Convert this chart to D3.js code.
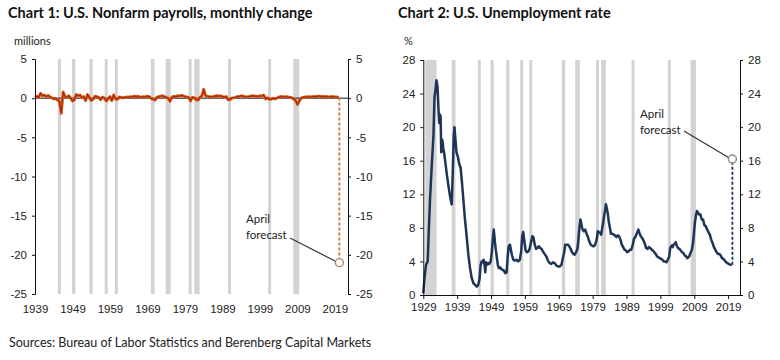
<!DOCTYPE html>
<html>
<head>
<meta charset="utf-8">
<script src="https://cdn.jsdelivr.net/npm/d3@7"></script>
<style>
  body { margin: 0; background: #fff; }
  svg { font-family: Lato, "Open Sans", sans-serif; }
</style>
</head>
<body>
<script>
const w = 780;
const h = 360;

// recession bands (decimal years)
const recStart = [1929.6, 1937.4, 1945.1, 1948.85, 1953.5, 1957.6, 1960.3, 1969.9, 1973.85, 1980.0, 1981.5, 1990.5, 2001.2, 2007.9];
const recEnd = [1932.9, 1938.5, 1945.8, 1949.8, 1954.4, 1958.3, 1961.1, 1970.9, 1975.2, 1980.5, 1982.9, 1991.2, 2001.9, 2009.5];

// chart 1: nonfarm payrolls, monthly change (millions), half-year steps from 1939
const payStart = 1939;
const payStep = 0.5;
const payValues = [
  0.1, 0.25, 0.1, 0.6, 0.3, 0.4, 0.2, 0.35, 0.15, 0.05,
  -0.1, -0.05, -0.2, -0.4, -1.93, 0.8, 0.2, 0.1, 0.3, 0.05,
  -0.35, -0.2, 0.45, 0.3, 0.4, 0.05, 0.2, -0.3, 0.45, 0.1,
  -0.3, -0.15, 0.25, 0.2, 0.1, -0.2, 0.15, 0.0, -0.35, -0.1,
  0.2, -0.3, 0.4, -0.1, -0.15, 0.15, 0.1, 0.05, 0.1, 0.15,
  0.1, 0.2, 0.15, 0.25, 0.2, 0.25, 0.1, 0.15, 0.2, 0.15,
  0.25, 0.2, -0.05, -0.1, -0.25, 0.1, 0.2, 0.25, 0.3, 0.2,
  0.1, 0.0, -0.4, 0.1, 0.25, 0.15, 0.3, 0.25, 0.35, 0.3,
  0.2, 0.15, 0.1, -0.35, 0.1, 0.05, -0.2, -0.25, 0.1, 0.3,
  1.1, 0.3, 0.25, 0.2, 0.15, 0.2, 0.25, 0.3, 0.25, 0.3,
  0.2, 0.1, 0.2, -0.2, -0.2, 0.0, 0.05, 0.1, 0.2, 0.2,
  0.3, 0.25, 0.2, 0.15, 0.2, 0.25, 0.3, 0.25, 0.25, 0.2,
  0.3, 0.25, 0.4, -0.1, 0.05, -0.15, -0.15, 0.0, -0.1, 0.0,
  0.15, 0.2, 0.2, 0.15, 0.2, 0.15, 0.1, 0.05, -0.1, -0.3,
  -0.8, -0.35, 0.0, 0.1, 0.15, 0.15, 0.2, 0.15, 0.2, 0.2,
  0.2, 0.25, 0.25, 0.2, 0.2, 0.2, 0.2, 0.15, 0.2, 0.2,
  0.15, 0.15, 0.1
];
const payForecastDate = 2020.2;
const payForecast = -21;
const payTicks = [5, 0, -5, -10, -15, -20, -25];
const payYearTicks = [1939, 1949, 1959, 1969, 1979, 1989, 1999, 2009, 2019];

// chart 2: unemployment rate (%)
const unYears = [
  1929.0, 1929.4, 1929.8, 1930.3, 1930.7, 1931.0, 1931.5, 1932.0, 1932.3, 1932.6,
  1932.9, 1933.2, 1933.5, 1933.7, 1933.9, 1934.1, 1934.3, 1934.6, 1934.9, 1935.2,
  1935.6, 1936.0, 1936.5, 1937.0, 1937.4, 1937.7, 1938.0, 1938.2, 1938.5, 1938.8,
  1939.2, 1939.6, 1940.0, 1940.4, 1940.8, 1941.3, 1941.8, 1942.3, 1942.8, 1943.3,
  1943.8, 1944.3, 1944.8, 1945.2, 1945.6, 1945.9, 1946.2, 1946.5, 1946.8, 1947.1,
  1947.3, 1947.5, 1947.8, 1948.1, 1948.5, 1948.9, 1949.2, 1949.5, 1949.8, 1950.1,
  1950.4, 1950.7, 1951.0, 1951.3, 1951.7, 1952.0, 1952.4, 1952.8, 1953.2, 1953.6,
  1953.9, 1954.2, 1954.6, 1954.9, 1955.2, 1955.6, 1956.0, 1956.5, 1957.0, 1957.5,
  1957.9, 1958.2, 1958.5, 1958.9, 1959.2, 1959.6, 1960.0, 1960.4, 1960.8, 1961.2,
  1961.5, 1961.9, 1962.3, 1962.7, 1963.1, 1963.5, 1963.9, 1964.3, 1964.8, 1965.3,
  1965.8, 1966.3, 1966.8, 1967.3, 1967.8, 1968.3, 1968.8, 1969.3, 1969.8, 1970.2,
  1970.6, 1970.9, 1971.3, 1971.7, 1972.1, 1972.5, 1972.9, 1973.3, 1973.7, 1974.1,
  1974.5, 1974.8, 1975.1, 1975.4, 1975.7, 1976.0, 1976.4, 1976.8, 1977.2, 1977.6,
  1978.0, 1978.4, 1978.8, 1979.2, 1979.6, 1980.0, 1980.3, 1980.5, 1980.8, 1981.2,
  1981.5, 1981.8, 1982.1, 1982.4, 1982.7, 1982.9, 1983.2, 1983.5, 1983.8, 1984.1,
  1984.4, 1984.8, 1985.2, 1985.6, 1986.0, 1986.4, 1986.8, 1987.2, 1987.6, 1988.0,
  1988.4, 1988.8, 1989.2, 1989.6, 1990.0, 1990.4, 1990.8, 1991.2, 1991.6, 1991.9,
  1992.3, 1992.5, 1992.8, 1993.2, 1993.6, 1994.0, 1994.4, 1994.8, 1995.2, 1995.6,
  1996.0, 1996.4, 1996.8, 1997.2, 1997.6, 1998.0, 1998.4, 1998.8, 1999.2, 1999.6,
  2000.0, 2000.4, 2000.8, 2001.2, 2001.6, 2001.9, 2002.3, 2002.6, 2002.9, 2003.3,
  2003.5, 2003.8, 2004.2, 2004.6, 2005.0, 2005.4, 2005.8, 2006.2, 2006.6, 2006.9,
  2007.3, 2007.6, 2007.9, 2008.3, 2008.6, 2008.9, 2009.2, 2009.5, 2009.8, 2010.1,
  2010.4, 2010.8, 2011.2, 2011.6, 2012.0, 2012.4, 2012.8, 2013.2, 2013.6, 2014.0,
  2014.4, 2014.8, 2015.2, 2015.6, 2016.0, 2016.4, 2016.8, 2017.2, 2017.6, 2018.0,
  2018.4, 2018.8, 2019.2, 2019.6, 2020.1
];
const unRates = [
  0.2, 2.2, 3.6, 4.0, 8.5, 11.5, 15.5, 19.0, 23.5, 24.5,
  25.6, 24.8, 22.0, 20.5, 21.5, 21.3, 17.0, 18.5, 17.5, 16.8,
  15.5, 14.2, 12.8, 11.5, 10.8, 14.5, 19.0, 20.0, 18.5, 17.0,
  16.5, 15.6, 15.2, 13.5, 11.5, 9.0, 7.0, 4.8, 3.2, 2.0,
  1.4, 1.2, 1.0, 1.2, 1.9, 3.5, 4.0, 3.9, 4.2, 3.5,
  2.7, 3.9, 3.6, 3.8, 3.7, 4.0, 5.0, 6.5, 7.8, 6.5,
  5.4, 4.5, 3.6, 3.2, 3.3, 3.1, 3.0, 2.9, 2.6, 2.7,
  4.5, 5.8, 6.0, 5.3, 4.7, 4.2, 4.1, 4.2, 4.0, 4.2,
  5.2, 7.0, 7.5, 6.2, 5.3, 5.1, 5.2, 5.5, 6.3, 7.0,
  6.9, 6.0, 5.5, 5.6, 5.8, 5.6, 5.5, 5.2, 4.9, 4.6,
  4.1, 3.8, 3.7, 3.9, 3.8, 3.5, 3.4, 3.4, 3.6, 4.4,
  5.1, 6.0, 6.0, 6.0, 5.8, 5.5, 5.1, 4.9, 4.8, 5.1,
  5.5, 6.6, 8.1, 9.0, 8.4, 7.8, 7.6, 7.8, 7.3, 6.9,
  6.4, 6.0, 5.9, 5.8, 5.9, 6.3, 6.9, 7.6, 7.5, 7.4,
  7.2, 7.9, 8.6, 9.5, 10.2, 10.8, 10.3, 9.6, 8.6, 8.0,
  7.3, 7.3, 7.2, 7.1, 6.9, 7.1, 7.0, 6.6, 6.0, 5.7,
  5.4, 5.3, 5.1, 5.2, 5.4, 5.4, 5.9, 6.7, 6.9, 7.2,
  7.6, 7.8, 7.4, 7.0, 6.8, 6.5, 6.1, 5.6, 5.5, 5.7,
  5.6, 5.4, 5.3, 5.1, 4.9, 4.6, 4.5, 4.4, 4.3, 4.2,
  4.0, 4.0, 3.9, 4.2, 4.6, 5.6, 5.9, 5.7, 6.0, 6.1,
  6.3, 5.9, 5.6, 5.5, 5.3, 5.1, 5.0, 4.7, 4.6, 4.4,
  4.5, 4.7, 5.0, 5.4, 6.1, 7.3, 8.7, 9.5, 10.0, 9.8,
  9.6, 9.6, 9.0, 9.0, 8.3, 8.2, 7.8, 7.5, 7.2, 6.6,
  6.2, 5.7, 5.4, 5.1, 4.9, 4.9, 4.7, 4.4, 4.3, 4.1,
  3.9, 3.8, 3.7, 3.6, 3.6
];
const unForecastDate = 2020.25;
const unForecast = 16.2;
const unTicks = [0, 4, 8, 12, 16, 20, 24, 28];
const unYearTicks = [1929, 1939, 1949, 1959, 1969, 1979, 1989, 1999, 2009, 2019];

const svg = d3.select("body").append("svg").attr("width", w).attr("height", h);

function drawBands(g, x, y0, y1, from) {
  const bands = recStart
    .map((s, i) => [s, recEnd[i]])
    .filter((b) => b[1] > from);
  g.append("g")
    .selectAll("rect")
    .data(bands)
    .enter()
    .append("rect")
    .attr("x", (d) => x(Math.max(d[0], from)))
    .attr("width", (d) => Math.max(3, x(d[1]) - x(Math.max(d[0], from))))
    .attr("y", y0)
    .attr("height", y1 - y0)
    .attr("fill", "#d3d3d3");
}

function styleAxis(g) {
  g.selectAll("path, line").attr("stroke", "#111").attr("stroke-width", 1);
  g.selectAll("text").attr("fill", "#222").style("font-size", "11.5px");
}

function annotate(g, tx, ty, lx1, ly1, lx2, ly2) {
  g.append("line")
    .attr("x1", lx1).attr("y1", ly1).attr("x2", lx2).attr("y2", ly2)
    .attr("stroke", "#333").attr("stroke-width", 1.2);
  const t = g.append("text")
    .attr("x", tx).attr("y", ty)
    .attr("fill", "#222").style("font-size", "11.5px");
  t.append("tspan").attr("x", tx).text("April");
  t.append("tspan").attr("x", tx).attr("dy", 16).text("forecast");
}

const plain = (d) => String(d);

// ---------- chart 1 ----------
const x1 = d3.scaleLinear().domain([1939, 2022.5]).range([35, 348]);
const y1 = d3.scaleLinear().domain([-25, 5]).range([294, 59]);
const c1 = svg.append("g");

c1.append("text").attr("x", 8).attr("y", 18)
  .style("font-size", "14.5px").style("font-weight", "bold").attr("fill", "#111")
  .text("Chart 1: U.S. Nonfarm payrolls, monthly change");
c1.append("text").attr("x", 14).attr("y", 45)
  .style("font-size", "11px").attr("fill", "#222").text("millions");

drawBands(c1, x1, 59, 294, 1939);

c1.append("line")
  .attr("x1", x1(1939)).attr("x2", x1(2022.5))
  .attr("y1", y1(0)).attr("y2", y1(0))
  .attr("stroke", "#111");

const payLine = d3.line()
  .x((d, i) => x1(payStart + i * payStep))
  .y((d) => y1(d));
c1.append("path").datum(payValues).attr("d", payLine)
  .attr("fill", "none").attr("stroke", "#e0621f").attr("stroke-width", 3)
  .attr("stroke-linejoin", "round");
c1.append("path").datum(payValues).attr("d", payLine)
  .attr("fill", "none").attr("stroke", "#a32a08").attr("stroke-width", 1.2);

c1.append("line")
  .attr("x1", x1(payForecastDate)).attr("x2", x1(payForecastDate))
  .attr("y1", y1(payValues[payValues.length - 1])).attr("y2", y1(payForecast))
  .attr("stroke", "#d9702e").attr("stroke-width", 1.8)
  .attr("stroke-dasharray", "3,2");

annotate(c1, 246, 223, 290, 238, x1(payForecastDate) - 3, y1(payForecast) - 1);
c1.append("circle")
  .attr("cx", x1(payForecastDate)).attr("cy", y1(payForecast)).attr("r", 4)
  .attr("fill", "#fff").attr("stroke", "#b08868").attr("stroke-width", 1.4);

c1.append("g").attr("transform", "translate(35,0)")
  .call(d3.axisLeft(y1).tickValues(payTicks).tickFormat(plain).tickSize(3).tickSizeOuter(3).tickPadding(5))
  .call(styleAxis);
c1.append("g").attr("transform", "translate(348,0)")
  .call(d3.axisRight(y1).tickValues(payTicks).tickFormat(plain).tickSize(3).tickSizeOuter(3).tickPadding(5))
  .call(styleAxis);
c1.append("g").attr("transform", "translate(0,302)")
  .call(d3.axisBottom(x1).tickValues(payYearTicks).tickFormat(plain).tickSize(0).tickPadding(3))
  .call(styleAxis)
  .call((g) => g.select(".domain").remove());

// ---------- chart 2 ----------
const x2 = d3.scaleLinear().domain([1929, 2022.5]).range([423.3, 740]);
const y2 = d3.scaleLinear().domain([0, 28]).range([295, 60]);
const c2 = svg.append("g");

c2.append("text").attr("x", 398).attr("y", 18)
  .style("font-size", "14.5px").style("font-weight", "bold").attr("fill", "#111")
  .text("Chart 2: U.S. Unemployment rate");
c2.append("text").attr("x", 404).attr("y", 45)
  .style("font-size", "11px").attr("fill", "#222").text("%");

drawBands(c2, x2, 60, 295, 1929);

const unLine = d3.line()
  .x((d, i) => x2(unYears[i]))
  .y((d) => y2(d));
c2.append("path").datum(unRates).attr("d", unLine)
  .attr("fill", "none").attr("stroke", "#1f3557").attr("stroke-width", 2.5)
  .attr("stroke-linejoin", "round");

c2.append("line")
  .attr("x1", x2(unForecastDate)).attr("x2", x2(unForecastDate))
  .attr("y1", y2(unRates[unRates.length - 1])).attr("y2", y2(unForecast))
  .attr("stroke", "#1f3557").attr("stroke-width", 1.8)
  .attr("stroke-dasharray", "3,2");

annotate(c2, 640, 118, 684, 131, x2(unForecastDate) - 3, y2(unForecast) - 1);
c2.append("circle")
  .attr("cx", x2(unForecastDate)).attr("cy", y2(unForecast)).attr("r", 4)
  .attr("fill", "#fff").attr("stroke", "#888").attr("stroke-width", 1.4);

c2.append("g").attr("transform", "translate(423.3,0)")
  .call(d3.axisLeft(y2).tickValues(unTicks).tickFormat(plain).tickSize(3).tickSizeOuter(3).tickPadding(5))
  .call(styleAxis);
c2.append("g").attr("transform", "translate(740,0)")
  .call(d3.axisRight(y2).tickValues(unTicks).tickFormat(plain).tickSize(3).tickSizeOuter(3).tickPadding(5))
  .call(styleAxis);
c2.append("g").attr("transform", "translate(0,295)")
  .call(d3.axisBottom(x2).tickValues(unYearTicks).tickFormat(plain).tickSize(4).tickSizeOuter(0).tickPadding(4))
  .call(styleAxis);

// footer
svg.append("text").attr("x", 9).attr("y", 347)
  .style("font-size", "12.5px").attr("fill", "#222")
  .text("Sources: Bureau of Labor Statistics and Berenberg Capital Markets");
</script>
</body>
</html>
